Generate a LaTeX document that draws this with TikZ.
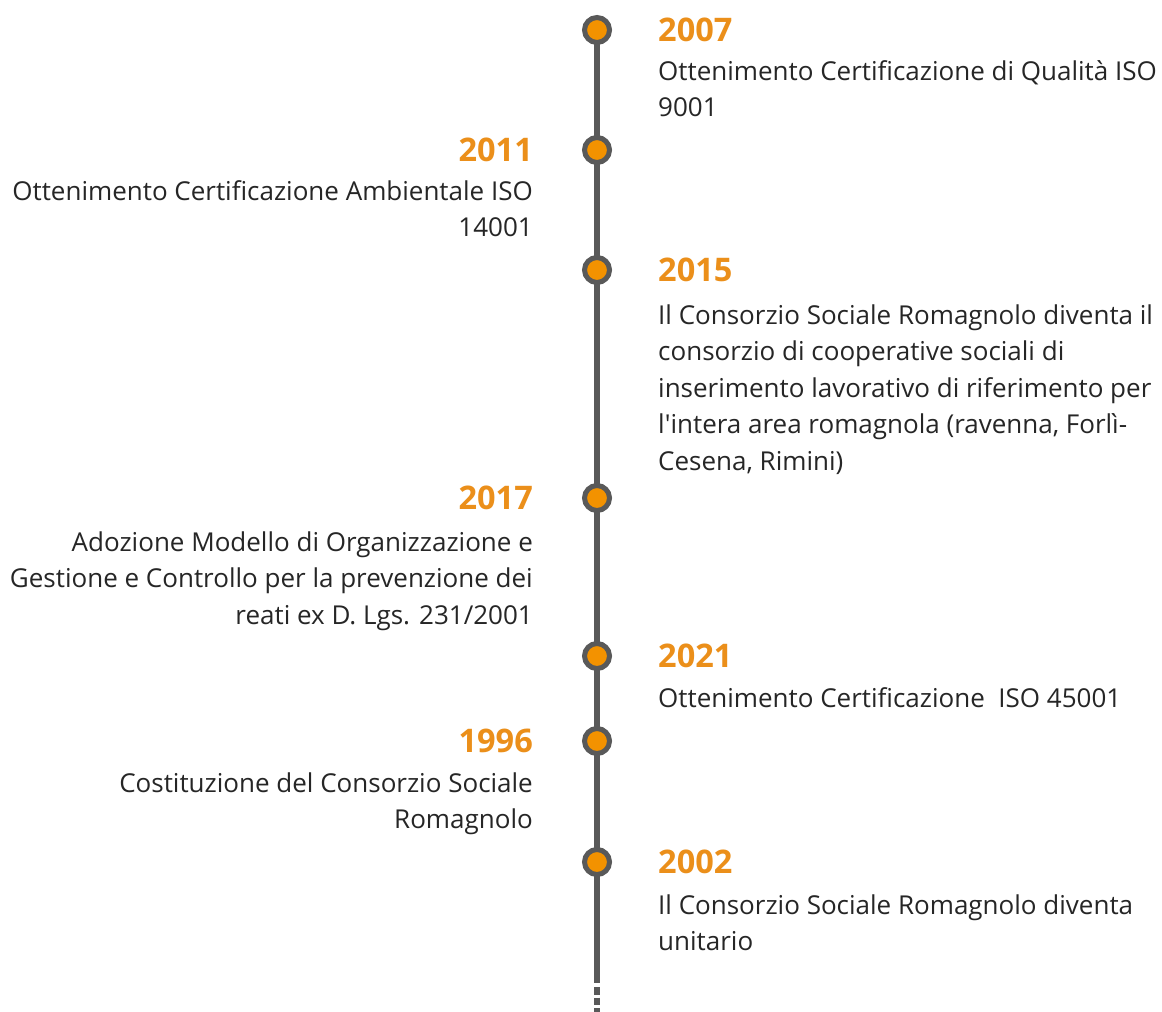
\documentclass[tikz,border=0pt]{standalone}
\usepackage{fontspec}
\newfontfamily\bodyfont{Open Sans}
\definecolor{tlgray}{HTML}{595959}
\definecolor{tlorange}{HTML}{F39200}
\definecolor{yearorange}{HTML}{EB8F1A}
\definecolor{txt}{HTML}{262626}
\tikzset{
  dot/.style={circle, draw=tlgray, line width=5pt, fill=tlorange, minimum size=25pt, inner sep=0pt},
  year/.style={font=\bodyfont\bfseries\fontsize{32.5}{38}\selectfont, text=yearorange, inner sep=0pt},
  bodyR/.style={font=\bodyfont\fontsize{26}{36.6}\selectfont, text=txt, inner sep=0pt, text width=560pt, align=flush left, anchor=base west},
  bodyL/.style={font=\bodyfont\fontsize{26}{36.6}\selectfont, text=txt, inner sep=0pt, text width=560pt, align=flush right, anchor=base east},
  axis/.style={draw=tlgray, line width=6pt}
}
\begin{document}
\begin{tikzpicture}[x=1pt,y=-1pt]
\useasboundingbox[fill=white] (0,0) rectangle (1162,1012);
\coordinate (top) at (597,30);
\coordinate (solidend) at (597,983);
\coordinate (dashstart) at (597,987);
\coordinate (dashend) at (597,1014);
\draw[axis] (top) -- (solidend);
\draw[axis, dash pattern=on 7.5pt off 3pt] (dashstart) -- (dashend);
% markers
\node[dot] (c1) at (597,30) {};
\node[dot] (c2) at (597,150) {};
\node[dot] (c3) at (597,270) {};
\node[dot] (c4) at (597,498) {};
\node[dot] (c5) at (597,656) {};
\node[dot] (c6) at (597,741) {};
\node[dot] (c7) at (597,862) {};
% 2007
\node[year, anchor=base west] (y1) at (658,41) {2007};
\node[bodyR] (t1) at (658,80) {Ottenimento Certificazione di Qualità ISO\\9001};
% 2011
\node[year, anchor=base east] (y2) at (533,161) {2011};
\node[bodyL] (t2) at (533,200) {Ottenimento Certificazione Ambientale ISO\\14001};
% 2015
\node[year, anchor=base west] (y3) at (658,281) {2015};
\node[bodyR] (t3) at (658,324) {Il Consorzio Sociale Romagnolo diventa il\\consorzio di cooperative sociali di\\inserimento lavorativo di riferimento per\\l'intera area romagnola (ravenna, Forlì-\\Cesena, Rimini)};
% 2017
\node[year, anchor=base east] (y4) at (533,509) {2017};
\node[bodyL] (t4) at (533,551) {Adozione Modello di Organizzazione e\\Gestione e Controllo per la prevenzione dei\\reati ex D. Lgs. 231/2001};
% 2021
\node[year, anchor=base west] (y5) at (658,667) {2021};
\node[bodyR] (t5) at (658,707) {Ottenimento Certificazione\ \ ISO 45001};
% 1996
\node[year, anchor=base east] (y6) at (533,752) {1996};
\node[bodyL] (t6) at (533,792) {Costituzione del Consorzio Sociale\\Romagnolo};
% 2002
\node[year, anchor=base west] (y7) at (658,873) {2002};
\node[bodyR] (t7) at (658,914) {Il Consorzio Sociale Romagnolo diventa\\unitario};
\end{tikzpicture}
\end{document}
